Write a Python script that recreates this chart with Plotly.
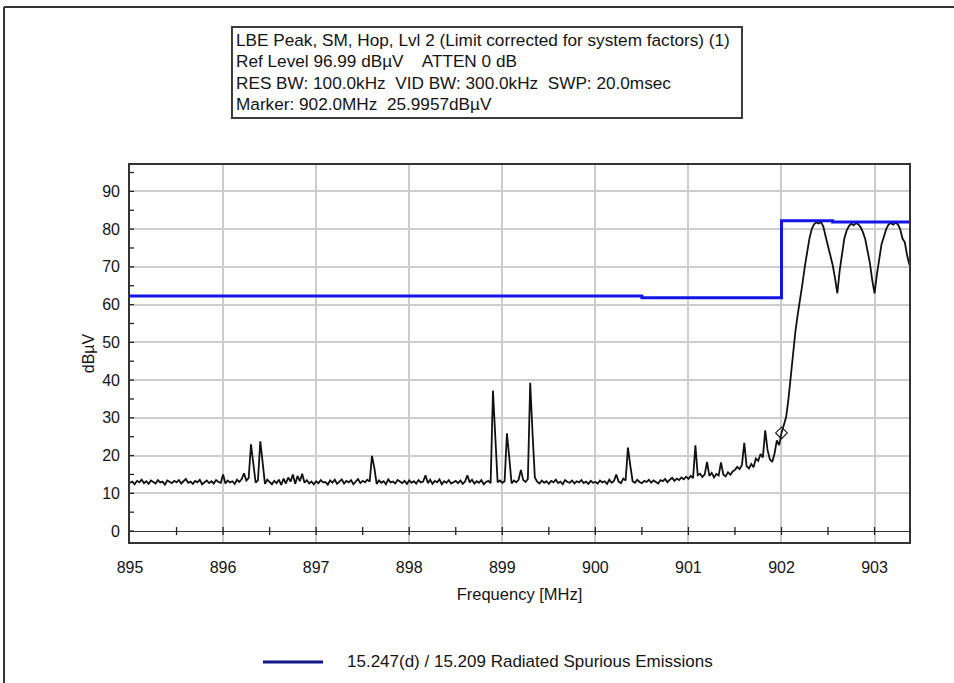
import numpy as np
import plotly.graph_objects as go

# ---------------- data ----------------
# sweep grid: 895.000 .. 903.375 MHz in 25 kHz steps (336 points)
freq_start = 895.0
freq_step = 0.025

level_dbuv = [
    # 895.000 - 895.475
    12.8, 13.1, 12.4, 13.3, 12.9, 13.6, 12.7, 13.2, 12.5, 13.4, 13.0, 12.6, 13.5, 12.9, 13.1, 12.3, 13.4, 13.0, 12.7, 13.3,
    # 895.500 - 895.975
    12.9, 13.5, 12.6, 13.2, 13.8, 12.8, 13.1, 12.5, 13.3, 12.9, 13.6, 12.4, 13.0, 13.4, 12.7, 13.2, 12.6, 13.5, 13.0, 12.8,
    # 896.000 - 896.475
    15.0, 12.6, 13.4, 12.9, 13.2, 12.5, 13.6, 13.0, 13.8, 15.3, 13.4, 14.0, 23.0, 17.6, 12.8, 13.5, 23.8, 18.2, 12.5, 13.6,
    # 896.500 - 896.975
    13.0, 12.4, 13.3, 12.7, 13.6, 12.2, 13.9, 12.6, 14.2, 13.1, 15.0, 12.5, 14.6, 13.2, 15.2, 12.8, 13.5, 12.6, 13.1, 12.4,
    # 897.000 - 897.475
    13.2, 12.7, 13.5, 12.9, 13.0, 12.3, 13.4, 12.8, 13.6, 12.5, 13.1, 13.7, 12.6, 13.3, 12.9, 13.5, 12.4, 13.2, 13.8, 12.7,
    # 897.500 - 897.975
    13.3, 12.9, 13.6, 13.1, 19.9, 16.8, 12.5, 13.4, 12.8, 13.2, 12.4, 13.7, 12.9, 13.1, 12.6, 13.5, 13.0, 12.7, 13.3, 12.5,
    # 898.000 - 898.475
    13.4, 12.8, 13.2, 12.6, 13.5, 12.9, 13.1, 14.8, 12.7, 13.6, 12.5, 13.3, 12.9, 13.7, 12.4, 13.2, 12.8, 13.5, 12.6, 13.0,
    # 898.500 - 898.975
    13.3, 12.7, 13.4, 12.5, 13.1, 14.8, 12.9, 13.6, 12.6, 13.2, 12.8, 13.5, 12.4, 13.0, 13.3, 12.7, 37.2, 25.0, 12.9, 13.4,
    # 899.000 - 899.475
    12.8, 13.2, 25.9, 19.5, 12.6, 13.4, 12.9, 13.6, 16.2, 13.5, 13.0, 13.8, 39.3, 25.9, 14.2, 13.1, 12.6, 13.4, 12.8, 13.2,
    # 899.500 - 899.975
    12.5, 13.3, 12.9, 13.6, 12.7, 13.1, 12.4, 13.5, 13.0, 12.8, 13.4, 12.6, 13.2, 12.9, 13.5, 12.7, 13.1, 12.5, 13.3, 12.8,
    # 900.000 - 900.475
    13.0, 12.6, 13.4, 12.9, 13.2, 12.5, 13.6, 12.8, 13.3, 15.0, 13.1, 12.7, 13.9, 13.4, 22.1, 17.5, 13.2, 12.8, 13.6, 13.0,
    # 900.500 - 900.975
    12.7, 13.3, 13.0, 13.6, 12.8, 13.4, 13.1, 12.6, 13.5, 13.2, 13.8, 12.9, 13.6, 14.1, 13.3, 13.9, 13.5, 14.2, 13.7, 14.4,
    # 901.000 - 901.475
    13.8, 14.6, 14.0, 22.7, 14.8, 15.2, 14.3, 15.0, 18.3, 14.6, 15.4, 14.2, 15.1, 14.7, 18.2, 15.0, 14.5, 15.6, 14.9, 15.8,
    # 901.500 - 901.975
    16.2, 17.0, 16.4, 17.5, 23.4, 17.2, 16.6, 17.8, 16.9, 19.2, 18.6, 20.4, 19.5, 26.7, 21.5, 19.0, 18.3, 20.5, 24.0, 22.8,
    # 902.000 - 902.475
    26.0, 28.5, 30.2, 35.0, 41.0, 48.8, 53.0, 57.5, 61.0, 65.5, 70.0, 74.0, 77.5, 80.0, 81.3, 81.8, 81.5, 81.9, 80.6, 78.0,
    # 902.500 - 902.975
    75.5, 73.0, 70.5, 67.0, 63.0, 69.0, 74.0, 77.5, 79.6, 80.8, 81.5, 81.0, 81.6, 81.3, 80.5, 79.2, 77.3, 74.5, 71.0, 66.5,
    # 903.000 - 903.375
    63.0, 68.0, 72.5, 76.0, 78.0, 80.0, 81.2, 81.6, 81.2, 81.7, 81.3, 80.0, 77.5, 76.5, 73.0, 70.5,
]
freq_mhz = np.round(freq_start + freq_step * np.arange(len(level_dbuv)), 3)

# limit line (15.247(d) / 15.209)
limit_freq = [895.0, 900.5, 900.5, 902.0, 902.0, 902.55, 902.55, 903.37]
limit_dbuv = [62.3, 62.3, 61.8, 61.8, 82.2, 82.2, 81.9, 81.9]

# marker
marker_freq = [902.0]
marker_dbuv = [25.9957]

header_lines = [
    "LBE Peak, SM, Hop, Lvl 2 (Limit corrected for system factors) (1)",
    "Ref Level 96.99 dBµV    ATTEN 0 dB",
    "RES BW: 100.0kHz  VID BW: 300.0kHz  SWP: 20.0msec",
    "Marker: 902.0MHz  25.9957dBµV",
]
legend_text = "15.247(d) / 15.209 Radiated Spurious Emissions"

x_ticks = [895, 896, 897, 898, 899, 900, 901, 902, 903]
x_minor = [895.5 + 0.5 * i for i in range(16)]
y_ticks = [0, 10, 20, 30, 40, 50, 60, 70, 80, 90]
y_minor = [5 * i for i in range(20)]

X_RANGE = [895.0, 903.37]
Y_RANGE = [-2.9, 96.99]

FONT = "Arial, Liberation Sans, sans-serif"

# ---------------- figure ----------------
fig = go.Figure()

fig.add_trace(go.Scatter(
    x=freq_mhz, y=level_dbuv, mode="lines",
    line=dict(color="#111111", width=1.8), showlegend=False, hoverinfo="skip",
))
fig.add_trace(go.Scatter(
    x=limit_freq, y=limit_dbuv, mode="lines",
    line=dict(color="#1414e6", width=3), showlegend=False, hoverinfo="skip",
))
fig.add_trace(go.Scatter(
    x=marker_freq, y=marker_dbuv, mode="markers",
    marker=dict(symbol="diamond-open", size=9, color="#222222", line=dict(width=1.2)),
    showlegend=False, hoverinfo="skip",
))

shapes = []
# crossing ticks on left axis
for v in y_minor:
    shapes.append(dict(type="line", xref="x", yref="y", xsizemode="pixel", xanchor=X_RANGE[0],
                       x0=-4, x1=4, y0=v, y1=v, line=dict(color="#222222", width=1.3)))
# crossing ticks on zero line
for v in x_minor:
    shapes.append(dict(type="line", xref="x", yref="y", ysizemode="pixel", yanchor=0,
                       x0=v, x1=v, y0=-4, y1=4, line=dict(color="#222222", width=1.3)))

# header box
shapes.append(dict(type="rect", xref="paper", yref="paper", x0=0.1309, x1=0.7856, y0=1.1247, y1=1.366,
                   line=dict(color="#3a3a3a", width=2), fillcolor="rgba(0,0,0,0)"))
# legend swatch
shapes.append(dict(type="line", xref="paper", yref="paper", x0=0.1707, x1=0.2478, y0=-0.3183, y1=-0.3183,
                   line=dict(color="#13138a", width=3)))
# outer frame (top and left)
shapes.append(dict(type="line", xref="paper", yref="paper", x0=-0.1617, x1=1.06, y0=1.419, y1=1.419,
                   line=dict(color="#333333", width=2)))
shapes.append(dict(type="line", xref="paper", yref="paper", x0=-0.1617, x1=-0.1617, y0=1.419, y1=-0.38,
                   line=dict(color="#333333", width=2)))

annotations = []
header_y = [1.3316, 1.2759, 1.2175, 1.1618]
for txt, yy in zip(header_lines, header_y):
    annotations.append(dict(text=txt, xref="paper", yref="paper", x=0.134, y=yy,
                            xanchor="left", yanchor="middle", showarrow=False,
                            font=dict(family=FONT, size=17.2, color="#141414")))
annotations.append(dict(text=legend_text, xref="paper", yref="paper", x=0.276, y=-0.3183,
                        xanchor="left", yanchor="middle", showarrow=False,
                        font=dict(family=FONT, size=17, color="#141414")))

fig.update_layout(
    width=954, height=683,
    margin=dict(l=130, r=45, t=165, b=141),
    paper_bgcolor="#ffffff", plot_bgcolor="#ffffff",
    font=dict(family=FONT, size=16, color="#141414"),
    shapes=shapes, annotations=annotations,
    showlegend=False,
)
fig.update_xaxes(
    range=X_RANGE, tickvals=x_ticks, ticks="", ticklabelstandoff=10,
    showgrid=True, gridcolor="#cdcdcd", gridwidth=1.6,
    showline=True, mirror=True, linecolor="#333333", linewidth=1.6,
    zeroline=False,
    title=dict(text="Frequency [MHz]", font=dict(size=16.5), standoff=13),
    tickfont=dict(size=16),
)
fig.update_yaxes(
    range=Y_RANGE, tickvals=y_ticks, ticks="", ticklabelstandoff=5,
    showgrid=True, gridcolor="#cdcdcd", gridwidth=1.6,
    showline=True, mirror=True, linecolor="#333333", linewidth=1.6,
    zeroline=True, zerolinecolor="#333333", zerolinewidth=1.4,
    title=dict(text="dBµV", font=dict(size=16), standoff=4),
    tickfont=dict(size=16),
)

fig.write_html("out.html")
